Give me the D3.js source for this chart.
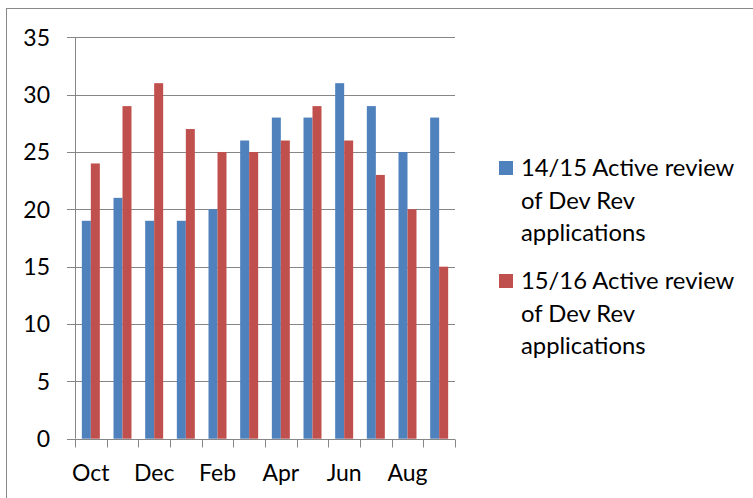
<!DOCTYPE html>
<html>
<head>
<meta charset="utf-8">
<script src="https://cdn.jsdelivr.net/npm/d3@7"></script>
<style>
  body { margin: 0; background: #fff; }
  svg { display: block; font-family: Lato, "Open Sans", sans-serif; }
</style>
</head>
<body>
<div class="chart"></div>
<script>
let months = ['Oct','Nov','Dec','Jan','Feb','Mar','Apr','May','Jun','Jul','Aug','Sep'];
let shownMonths = ['Oct','Dec','Feb','Apr','Jun','Aug'];
let seriesNames = ['14/15 Active review of Dev Rev applications', '15/16 Active review of Dev Rev applications'];
let legendLines = [['14/15 Active review','of Dev Rev','applications'], ['15/16 Active review','of Dev Rev','applications']];
let review1415 = [19, 21, 19, 19, 20, 26, 28, 28, 31, 29, 25, 28];
let review1516 = [24, 29, 31, 27, 25, 25, 26, 29, 26, 23, 20, 15];
let yTicks = [0, 5, 10, 15, 20, 25, 30, 35];
let colors = ['#4F81BD', '#C0504D'];

let width = 753;
let height = 498;
let plotLeft = 75, plotRight = 455, plotTop = 37.3, plotBottom = 438.7;

let svg = d3.select('.chart')
            .append('svg')
            .attr('width', width)
            .attr('height', height);

// chart frame
svg.append('rect')
   .attr('x', 6.5).attr('y', 8.5)
   .attr('width', 760).attr('height', 500)
   .attr('fill', 'none')
   .attr('stroke', '#888')
   .attr('stroke-width', 1);

let x = d3.scaleBand().domain(months).range([plotLeft, plotRight]).paddingInner(0.432).paddingOuter(0.216);
let xSub = d3.scaleBand().domain([0, 1]).range([0, x.bandwidth()]);
let y = d3.scaleLinear().domain([0, 35]).range([plotBottom, plotTop]);

// gridlines
svg.append('g')
   .selectAll('line')
   .data(yTicks.filter(d => d > 0))
   .enter()
   .append('line')
   .attr('x1', 67).attr('x2', plotRight)
   .attr('y1', d => Math.round(y(d)) + 0.5)
   .attr('y2', d => Math.round(y(d)) + 0.5)
   .attr('stroke', '#868686')
   .attr('stroke-width', 1);

// y labels
svg.append('g')
   .selectAll('text')
   .data(yTicks)
   .enter()
   .append('text')
   .attr('x', 50)
   .attr('y', d => y(d))
   .attr('dy', '0.36em')
   .attr('text-anchor', 'end')
   .attr('font-size', 23)
   .attr('fill', '#000')
   .text(d => d);

// bars
let series = [review1415, review1516];
series.forEach((vals, s) => {
  svg.append('g')
     .selectAll('rect')
     .data(vals)
     .enter()
     .append('rect')
     .attr('x', (d, i) => x(months[i]) + xSub(s))
     .attr('y', d => y(d))
     .attr('width', xSub.bandwidth())
     .attr('height', d => y(0) - y(d))
     .attr('fill', colors[s]);
});

// y axis line
svg.append('line')
   .attr('x1', plotLeft + 0.5).attr('x2', plotLeft + 0.5)
   .attr('y1', plotTop).attr('y2', plotBottom)
   .attr('stroke', '#868686');

// x axis line + ticks
let step = x.step();
let xAxisY = Math.round(y(0)) + 0.5;
svg.append('line')
   .attr('x1', 67).attr('x2', plotRight)
   .attr('y1', xAxisY).attr('y2', xAxisY)
   .attr('stroke', '#868686');
svg.append('g')
   .selectAll('line')
   .data(d3.range(months.length + 1))
   .enter()
   .append('line')
   .attr('x1', i => Math.round(plotLeft + i * step) + 0.5)
   .attr('x2', i => Math.round(plotLeft + i * step) + 0.5)
   .attr('y1', xAxisY).attr('y2', xAxisY + 8)
   .attr('stroke', '#868686');

// x labels
svg.append('g')
   .selectAll('text')
   .data(shownMonths)
   .enter()
   .append('text')
   .attr('x', d => x(d) + x.bandwidth() / 2)
   .attr('y', 481)
   .attr('text-anchor', 'middle')
   .attr('font-size', 23)
   .attr('fill', '#000')
   .text(d => d);

// legend
let legend = svg.append('g');
legendLines.forEach((lines, s) => {
  let baseY = 176 + s * 113;
  legend.append('rect')
        .attr('x', 499).attr('y', baseY - 15)
        .attr('width', 14).attr('height', 14)
        .attr('fill', colors[s]);
  lines.forEach((ln, k) => {
    legend.append('text')
          .attr('x', 521)
          .attr('y', baseY + k * 32.5)
          .attr('font-size', 23.8)
          .attr('fill', '#000')
          .text(ln);
  });
});
</script>
</body>
</html>
